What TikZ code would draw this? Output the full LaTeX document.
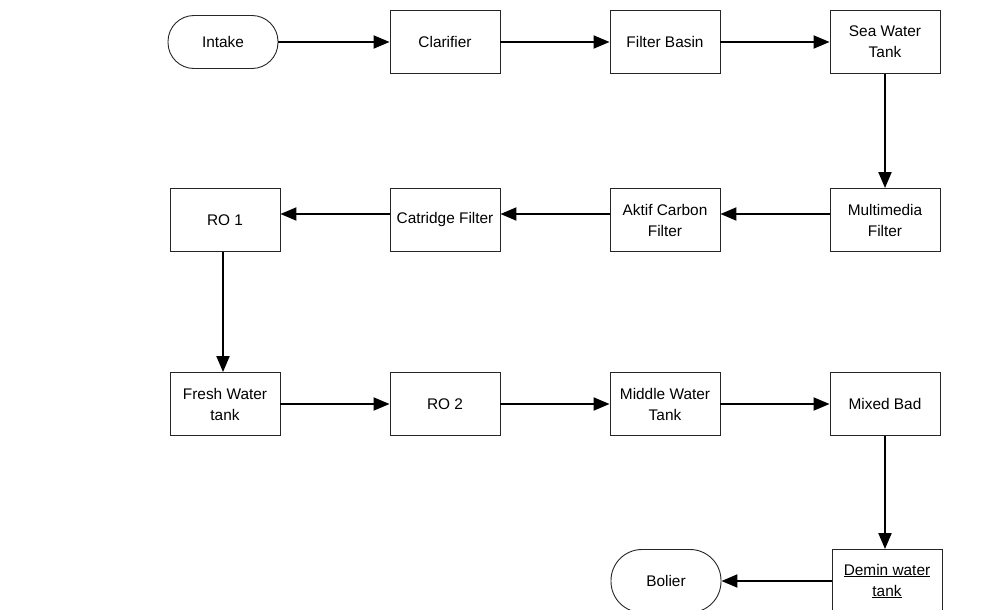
\documentclass[tikz,border=0pt]{standalone}
\usepackage{fontspec}
\setmainfont{Liberation Sans}
\usetikzlibrary{arrows.meta}
\begin{document}
\begin{tikzpicture}[x=1pt,y=-1pt,
  box/.style={draw=black!85,line width=0.9pt,fill=white,minimum width=110pt,minimum height=63pt,inner sep=0pt,align=center,font=\fontsize{15.4}{21}\selectfont},
  term/.style={draw=black!85,line width=0.9pt,fill=white,rounded corners=26pt,minimum width=110pt,minimum height=53pt,inner sep=0pt,align=center,font=\fontsize{15.4}{21}\selectfont},
  arr/.style={line width=2pt,-{Triangle[length=16pt,width=13pt]}}]
\useasboundingbox (0,0) rectangle (982,610);
\clip (0,0) rectangle (982,610);
\fill[white] (0,0) rectangle (982,610);
% row 1
\node[term] (intake) at (223,42) {Intake};
\node[box] (clar) at (445,42) {Clarifier};
\node[box] (fb) at (665,42) {Filter Basin};
\node[box] (swt) at (885,42) {Sea Water\\Tank};
% row 2
\node[box] (ro1) at (225,220) {RO 1};
\node[box] (cat) at (445,220) {Catridge Filter};
\node[box] (acf) at (665,220) {Aktif Carbon\\Filter};
\node[box] (mmf) at (885,220) {Multimedia\\Filter};
% row 3
\node[box] (fwt) at (225,404) {Fresh Water\\tank};
\node[box] (ro2) at (445,404) {RO 2};
\node[box] (mwt) at (665,404) {Middle Water\\Tank};
\node[box] (mb) at (885,404) {Mixed Bad};
% row 4
\node[box] (demin) at (887,581) {\underline{Demin water}\\\underline{tank}};
\node[term,minimum height=63pt,rounded corners=31pt] (boiler) at (666,581) {Bolier};
% connectors
\draw[arr] (intake.east) -- (clar.west);
\draw[arr] (clar.east) -- (fb.west);
\draw[arr] (fb.east) -- (swt.west);
\draw[arr] (swt.south) -- (mmf.north);
\draw[arr] ([yshift=6pt]mmf.west) -- ([yshift=6pt]acf.east);
\draw[arr] ([yshift=6pt]acf.west) -- ([yshift=6pt]cat.east);
\draw[arr] ([yshift=6pt]cat.west) -- ([yshift=6pt]ro1.east);
\draw[arr] ([xshift=-2pt]ro1.south) -- ([xshift=-2pt]fwt.north);
\draw[arr] (fwt.east) -- (ro2.west);
\draw[arr] (ro2.east) -- (mwt.west);
\draw[arr] (mwt.east) -- (mb.west);
\draw[arr] (mb.south) -- (mb.south |- demin.north);
\draw[arr] (demin.west) -- (boiler.east);
\end{tikzpicture}
\end{document}
